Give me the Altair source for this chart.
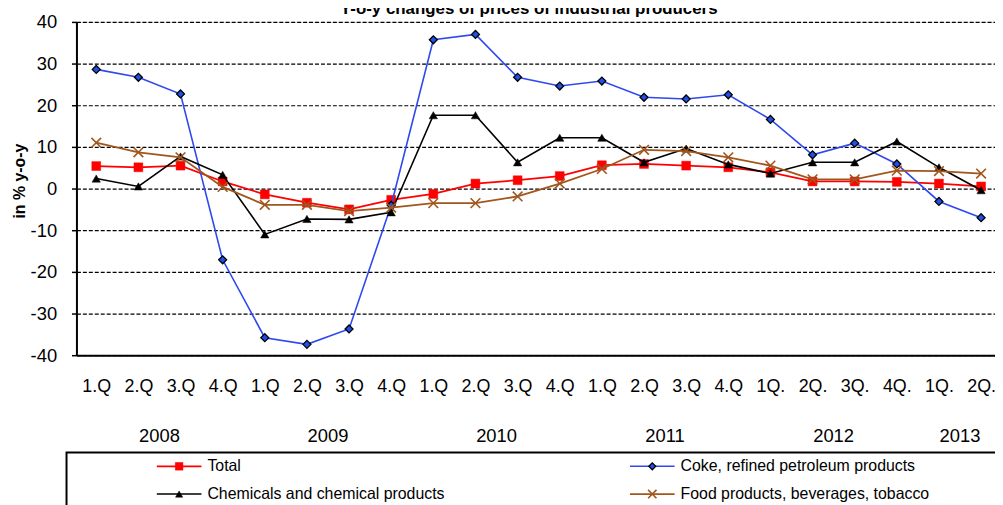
import altair as alt
import pandas as pd

quarters = ["1.Q", "2.Q", "3.Q", "4.Q", "1.Q", "2.Q", "3.Q", "4.Q",
            "1.Q", "2.Q", "3.Q", "4.Q", "1.Q", "2.Q", "3.Q", "4.Q",
            "1Q.", "2Q.", "3Q.", "4Q.", "1Q.", "2Q."]
years = ["2008"] * 4 + ["2009"] * 4 + ["2010"] * 4 + ["2011"] * 4 + ["2012"] * 4 + ["2013"] * 2

total = [5.4, 5.1, 5.5, 1.7, -1.4, -3.4, -5.0, -2.7, -1.3, 1.2, 2.0, 3.0,
         5.6, 5.9, 5.5, 5.1, 3.9, 1.7, 1.7, 1.6, 1.2, 0.5]
coke = [28.6, 26.7, 22.7, -17.1, -35.8, -37.4, -33.7, -4.0, 35.7, 37.0, 26.7, 24.6,
        25.8, 21.9, 21.5, 22.5, 16.6, 8.1, 10.9, 5.9, -3.1, -7.0]
chemicals = [2.4, 0.5, 7.7, 3.3, -11.0, -7.3, -7.4, -5.7, 17.6, 17.6, 6.3, 12.2,
             12.2, 6.3, 9.6, 5.8, 3.6, 6.3, 6.3, 11.3, 5.1, -0.4]
food = [11.0, 8.7, 7.5, 0.4, -3.9, -3.9, -5.4, -4.6, -3.5, -3.5, -1.9, 1.2,
        4.7, 9.3, 9.0, 7.5, 5.5, 2.2, 2.2, 4.3, 4.2, 3.6]

series_names = ["Total", "Coke, refined petroleum products",
                "Chemicals and chemical products", "Food products, beverages, tobacco"]
series_values = [total, coke, chemicals, food]

FONT = "Liberation Sans"
W, H = 926, 336
n = len(quarters)

label_expr = "[" + ",".join("'" + q + "'" for q in quarters) + "][datum.value]"
xscale = alt.Scale(domain=[-0.47, n - 1 + 0.33], nice=False, zero=False)
X = alt.X("idx:Q", scale=xscale,
          axis=alt.Axis(values=list(range(n)), labelExpr=label_expr, grid=False, ticks=False,
                        domainColor="black", domainWidth=2, labelFontSize=18, labelFont=FONT,
                        labelColor="black", labelPadding=23, labelOverlap=False, labelFlush=False,
                        title=None))
Y = alt.Y("value:Q", scale=alt.Scale(domain=[-40, 40], nice=False),
          axis=alt.Axis(values=list(range(-40, 41, 10)), labelExpr="toString(datum.value)",
                        grid=True, gridColor="black",
                        gridDash=[4, 2], gridWidth=1.2, domainColor="black", domainWidth=2,
                        tickColor="black", tickSize=5, tickWidth=1.5, labelFontSize=18.5,
                        labelFont=FONT, labelColor="black", labelPadding=15,
                        title="in % y-o-y", titleFont=FONT, titleFontSize=16,
                        titleFontWeight="bold", titleColor="black", titleAngle=-90,
                        titleX=-57, titleY=160, titleBaseline="middle", titleAlign="center"))

styles = [
    dict(color="#FF0000", lw=1.8, shape="square", filled=True, fill="#FF0000", stroke="#FF0000", sw=0.5, size=80),
    dict(color="#2F48F0", lw=1.6, shape="diamond", filled=True, fill="#2050E8", stroke="black", sw=1.3, size=64),
    dict(color="black", lw=1.6, shape="triangle-up", filled=True, fill="black", stroke="black", sw=0.5, size=70),
    dict(color="#A0561C", lw=1.8, shape="M-1,-1L1,1M-1,1L1,-1", filled=False, fill="none", stroke="#A0561C", sw=1.6, size=95),
]

layers = []
# plot series
for name, vals, st in zip(series_names, series_values, styles):
    df = pd.DataFrame({"idx": list(range(n)), "value": vals, "series": name})
    line = alt.Chart(df).mark_line(color=st["color"], strokeWidth=st["lw"]).encode(x=X, y=Y)
    pt = alt.Chart(df).mark_point(shape=st["shape"], filled=st["filled"], fill=st["fill"],
                                  stroke=st["stroke"], strokeWidth=st["sw"], size=st["size"],
                                  opacity=1).encode(x=X, y=Y)
    layers += [line, pt]

# year labels
qdf = pd.DataFrame({"idx": list(range(n)), "year": years})
ydf = qdf.groupby("year", as_index=False)["idx"].mean()
year_text = alt.Chart(ydf).mark_text(fontSize=18.5, font=FONT, color="black", baseline="middle").encode(
    x=alt.X("idx:Q", scale=xscale), y=alt.value(417), text="year:N")
layers.append(year_text)

# title (partly cut at the top, as in the source)
title = alt.Chart(pd.DataFrame({"t": ["Y-o-y changes of prices of industrial producers"]})).mark_text(
    fontSize=17, font=FONT, fontWeight="bold", color="black", baseline="middle").encode(
    x=alt.value(456), y=alt.value(-13), text="t:N")
layers.append(title)

# legend box
one = pd.DataFrame({"a": [0]})
box = alt.Chart(one).mark_rect(fillOpacity=0, stroke="black", strokeWidth=2).encode(
    x=alt.value(-10), x2=alt.value(1000), y=alt.value(434), y2=alt.value(530))
layers.append(box)

col_x = [81, 558]
row_y = [448, 476]
for i, (name, st) in enumerate(zip(series_names, styles)):
    cx = col_x[i % 2]
    ry = row_y[i // 2]
    ldf = pd.DataFrame({"series": [name]})
    layers.append(alt.Chart(ldf).mark_rule(color=st["color"], strokeWidth=st["lw"]).encode(
        x=alt.value(cx), x2=alt.value(cx + 45), y=alt.value(ry)))
    layers.append(alt.Chart(ldf).mark_point(shape=st["shape"], filled=st["filled"], fill=st["fill"],
                                            stroke=st["stroke"], strokeWidth=st["sw"],
                                            size=st["size"] * 0.75, opacity=1).encode(
        x=alt.value(cx + 22.5), y=alt.value(ry)))
    layers.append(alt.Chart(ldf).mark_text(fontSize=16, font=FONT, color="black", align="left",
                                           baseline="middle").encode(
        x=alt.value(cx + 51), y=alt.value(ry), text="series:N"))

chart = alt.layer(*layers).properties(
    width=W, height=H,
    padding={"left": 69, "top": 12, "right": 0, "bottom": 149},
    autosize=alt.AutoSizeParams(type="none"),
).configure_view(stroke=None).configure(background="white")

chart.save("out.html", embed_options={"renderer": "svg", "actions": False})
